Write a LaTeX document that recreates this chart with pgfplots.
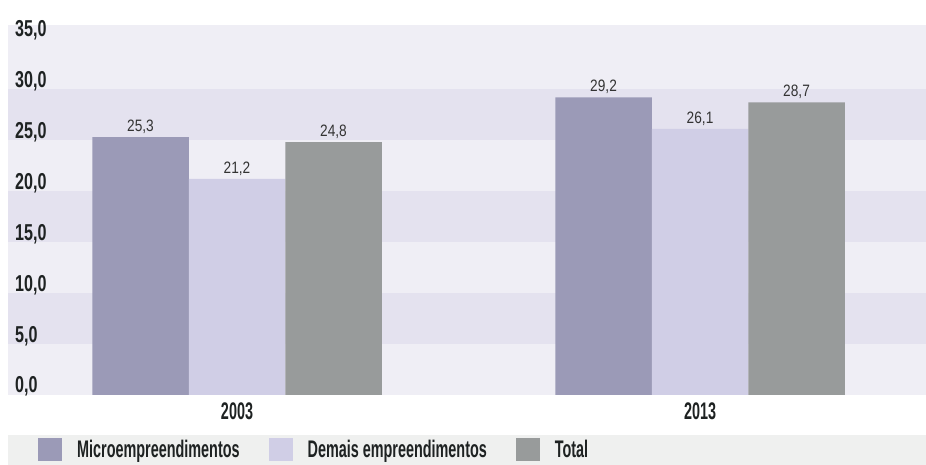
\documentclass[border=0pt]{standalone}
\usepackage{fontspec}
\usepackage{pgfplots}
\pgfplotsset{compat=1.18}
\newfontfamily\cond{Liberation Sans}[FakeStretch=0.6]
\newfontfamily\condt{Liberation Sans}[FakeStretch=0.7]
\newfontfamily\narrow{Liberation Sans}[FakeStretch=0.83]
\definecolor{micro}{HTML}{9B9AB7}
\definecolor{demais}{HTML}{D0CEE6}
\definecolor{total}{HTML}{989B9B}
\definecolor{bandL}{HTML}{EFEEF5}
\definecolor{bandD}{HTML}{E4E2EF}
\definecolor{legbg}{HTML}{EFF0EF}
\definecolor{ink}{HTML}{1E2222}
\definecolor{valtxt}{HTML}{333333}
\pgfplotsset{
  frame/.style={at={(0pt,0pt)}, anchor=south west,
    scale only axis, width=918pt, height=370pt,
    xmin=-0.4946, xmax=1.488, ymin=0, ymax=36.3}
}
\begin{document}
\begin{tikzpicture}
\path (-8pt,-70pt) rectangle (918pt,395pt);
% legend strip
\fill[legbg] (0pt,-70pt) rectangle (918pt,-40pt);
% background bands
\begin{axis}[frame, hide axis]
\fill[bandL] (-0.4946,0) rectangle (1.488,5);
\fill[bandD] (-0.4946,5) rectangle (1.488,10);
\fill[bandL] (-0.4946,10) rectangle (1.488,15);
\fill[bandD] (-0.4946,15) rectangle (1.488,20);
\fill[bandL] (-0.4946,20) rectangle (1.488,25);
\fill[bandD] (-0.4946,25) rectangle (1.488,30);
\fill[bandL] (-0.4946,30) rectangle (1.488,36.3);
\end{axis}
\begin{axis}[
  frame,
  ybar=0pt, bar width=96.5pt,
  axis line style={draw=none}, tick style={draw=none},
  xtick={0,1}, xticklabels={2003,2013},
  ytick={0,5,...,35},
  xticklabel style={font=\cond\bfseries\fontsize{24}{24}\selectfont, text=ink},
  yticklabel style={anchor=base west, inner sep=0pt, xshift=7pt, yshift=2pt,
    font=\condt\bfseries\fontsize{23}{23}\selectfont, text=ink},
  nodes near coords,
  every node near coord/.append style={font=\narrow\fontsize{16.5}{16.5}\selectfont, text=valtxt},
  legend image code/.code={\fill[#1] (0pt,-11.5pt) rectangle (24pt,11.5pt);},
  legend columns=3,
  legend style={at={(0,0)}, anchor=west, xshift=30pt, yshift=-55pt,
    draw=none, fill=none, inner sep=0pt,
    nodes={inner sep=0pt},
    font=\cond\bfseries\fontsize{24}{24}\selectfont, text=ink,
    /tikz/every odd column/.append style={column sep=15pt},
    /tikz/every even column/.append style={column sep=29pt}},
  /pgf/number format/.cd, use comma, fixed, fixed zerofill, precision=1, assume math mode=true
]
\addplot[fill=micro, draw=none] coordinates {(0,25.3) (1,29.2)};
\addlegendentry{Microempreendimentos}
\addplot[fill=demais, draw=none] coordinates {(0,21.2) (1,26.1)};
\addlegendentry{Demais empreendimentos}
\addplot[fill=total, draw=none] coordinates {(0,24.8) (1,28.7)};
\addlegendentry{Total}
\end{axis}
\end{tikzpicture}
\end{document}
